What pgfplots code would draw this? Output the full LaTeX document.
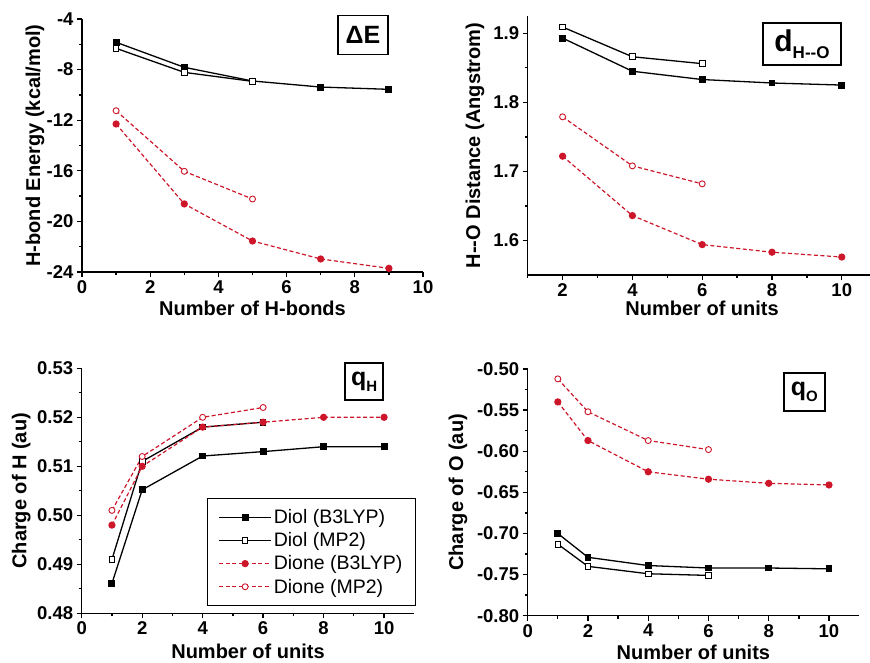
\documentclass[border=0pt]{standalone}
\usepackage{fontspec}
\setmainfont{Liberation Sans}
\usepackage{pgfplots}
\pgfplotsset{compat=1.18}
\definecolor{dred}{RGB}{205,22,42}

\tikzset{tag/.style={draw=black, line width=1.6pt, inner sep=0pt, align=center, font=\bfseries}}
\pgfplotsset{
  panel/.style={
    scale only axis, anchor=south west, clip=false,
    axis x line*=bottom, axis y line*=left,
    axis line style={line width=1.4pt},
    tick align=outside, major tick length=5pt, minor tick length=3pt,
    every tick/.style={line width=1.3pt, black},
    tick label style={font=\fontsize{18.5}{20}\selectfont\bfseries},
    /pgf/number format/assume math mode=true,
    minor x tick num=1, minor y tick num=1,
    every axis y label/.style={rotate=90, anchor=center, font=\fontsize{20}{22}\selectfont\bfseries},
    every axis x label/.style={anchor=center, font=\fontsize{20}{22}\selectfont\bfseries},
  },
  limg/.style={legend image code/.code={\draw[mark repeat=2,mark phase=2] plot coordinates {(0pt,0pt)(26pt,0pt)(52pt,0pt)};}},
  diolB/.style={black, line width=1.3pt, mark=square*, mark size=2.8pt, mark options={solid, fill=black}, limg},
  diolM/.style={black, line width=1.3pt, mark=square*, mark size=2.8pt, mark options={solid, fill=white, line width=0.9pt}, limg},
  dioneB/.style={dred, line width=1.2pt, dash pattern=on 4pt off 2.5pt, mark=*, mark size=3pt, mark options={solid, fill=dred}, limg},
  dioneM/.style={dred, line width=1.2pt, dash pattern=on 4pt off 2.5pt, mark=*, mark size=3pt, mark options={solid, fill=white, line width=0.9pt}, limg},
}

\begin{document}
\begin{tikzpicture}
\useasboundingbox (0pt,0pt) rectangle (870pt,662pt);

% top left: H-bond energy
\begin{axis}[panel, at={(82pt,390pt)}, width=341pt, height=253pt,
  xmin=0, xmax=10, ymin=-24, ymax=-4,
  xtick={0,2,...,10}, ytick={-24,-20,...,-4},
  xlabel={Number of H-bonds}, ylabel={H-bond Energy (kcal/mol)},
  xlabel style={at={(axis description cs:0.5,-0.142)}},
  ylabel style={at={(axis description cs:-0.138,0.5)}},
]
\addplot[diolB] coordinates {(1,-5.84) (3,-7.82) (5,-8.90) (7,-9.38) (9,-9.56)};
\addplot[diolM] coordinates {(1,-6.32) (3,-8.22) (5,-8.93)};
\addplot[dioneB] coordinates {(1,-12.30) (3,-18.62) (5,-21.55) (7,-22.97) (9,-23.71)};
\addplot[dioneM] coordinates {(1,-11.25) (3,-16.04) (5,-18.23)};
\node[tag, minimum width=50pt, minimum height=39pt, font=\fontsize{25}{25}\selectfont\bfseries]
  at (rel axis cs:0.824,0.937) {ΔE};
\end{axis}

% top right: H...O distance
\begin{axis}[panel, at={(527.7pt,387pt)}, width=342pt, height=259pt,
  xmin=1, xmax=10.8, ymin=1.55, ymax=1.925,
  xtick={2,4,...,10}, minor xtick={1,3,...,9}, minor x tick num=0,
  ytick={1.6,1.7,1.8,1.9},
  yticklabel style={/pgf/number format/.cd, fixed, fixed zerofill, precision=1},
  xlabel={Number of units}, ylabel={H-{}-O Distance (Angstrom)},
  xlabel style={at={(axis description cs:0.51,-0.13)}},
  ylabel style={at={(axis description cs:-0.154,0.5)}},
]
\addplot[diolB] coordinates {(2,1.893) (4,1.845) (6,1.833) (8,1.828) (10,1.825)};
\addplot[diolM] coordinates {(2,1.909) (4,1.866) (6,1.856)};
\addplot[dioneB] coordinates {(2,1.722) (4,1.636) (6,1.594) (8,1.583) (10,1.576)};
\addplot[dioneM] coordinates {(2,1.779) (4,1.708) (6,1.682)};
\node[tag, minimum width=78pt, minimum height=42pt]
  at (rel axis cs:0.802,0.892) {{\fontsize{30}{30}\selectfont d}\raisebox{-7pt}{\fontsize{17}{17}\selectfont H-{}-O}};
\end{axis}

% bottom left: charge of H
\begin{axis}[panel, at={(81.7pt,48.7pt)}, width=332.6pt, height=245pt,
  xmin=0, xmax=11, ymin=0.48, ymax=0.53,
  xtick={0,2,...,10}, ytick={0.48,0.49,...,0.53},
  yticklabel style={/pgf/number format/.cd, fixed, fixed zerofill, precision=2},
  xlabel={Number of units}, ylabel={Charge of H (au)},
  xlabel style={at={(axis description cs:0.5,-0.154)}},
  ylabel style={at={(axis description cs:-0.182,0.5)}},
  legend cell align=left,
  legend style={at={(axis description cs:0.377,0.03)}, anchor=south west,
    draw=black, line width=0.8pt, font=\fontsize{19.5}{21}\selectfont,
    inner xsep=11pt, inner ysep=9pt, row sep=3.5pt},
]
\addplot[diolB] coordinates {(1,0.4861) (2,0.5052) (4,0.5121) (6,0.5130) (8,0.5140) (10,0.5140)};
\addplot[diolM] coordinates {(1,0.4910) (2,0.5110) (4,0.5180) (6,0.5190)};
\addplot[dioneB] coordinates {(1,0.4980) (2,0.5100) (4,0.5180) (6,0.5190) (8,0.5200) (10,0.5200)};
\addplot[dioneM] coordinates {(1,0.5010) (2,0.5120) (4,0.5200) (6,0.5220)};
\legend{Diol (B3LYP), Diol (MP2), Dione (B3LYP), Dione (MP2)}
\node[tag, minimum width=38pt, minimum height=37pt]
  at (rel axis cs:0.849,0.946) {{\fontsize{25}{25}\selectfont q}\raisebox{-6pt}{\fontsize{15}{15}\selectfont H}};
\end{axis}

% bottom right: charge of O
\begin{axis}[panel, at={(527.7pt,46.3pt)}, width=331.4pt, height=246.7pt,
  xmin=0, xmax=11, ymin=-0.80, ymax=-0.50,
  xtick={0,2,...,10}, ytick={-0.80,-0.75,...,-0.50},
  yticklabel style={/pgf/number format/.cd, fixed, fixed zerofill, precision=2},
  xlabel={Number of units}, ylabel={Charge of O (au)},
  xlabel style={at={(axis description cs:0.5,-0.147)}},
  ylabel style={at={(axis description cs:-0.21,0.5)}},
]
\addplot[diolB] coordinates {(1,-0.700) (2,-0.729) (4,-0.739) (6,-0.742) (8,-0.742) (10,-0.743)};
\addplot[diolM] coordinates {(1,-0.713) (2,-0.740) (4,-0.749) (6,-0.751)};
\addplot[dioneB] coordinates {(1,-0.540) (2,-0.587) (4,-0.625) (6,-0.634) (8,-0.639) (10,-0.641)};
\addplot[dioneM] coordinates {(1,-0.512) (2,-0.552) (4,-0.587) (6,-0.598)};
\node[tag, minimum width=41pt, minimum height=38pt]
  at (rel axis cs:0.835,0.907) {{\fontsize{25}{25}\selectfont q}\raisebox{-6pt}{\fontsize{15}{15}\selectfont O}};
\end{axis}
\end{tikzpicture}
\end{document}
